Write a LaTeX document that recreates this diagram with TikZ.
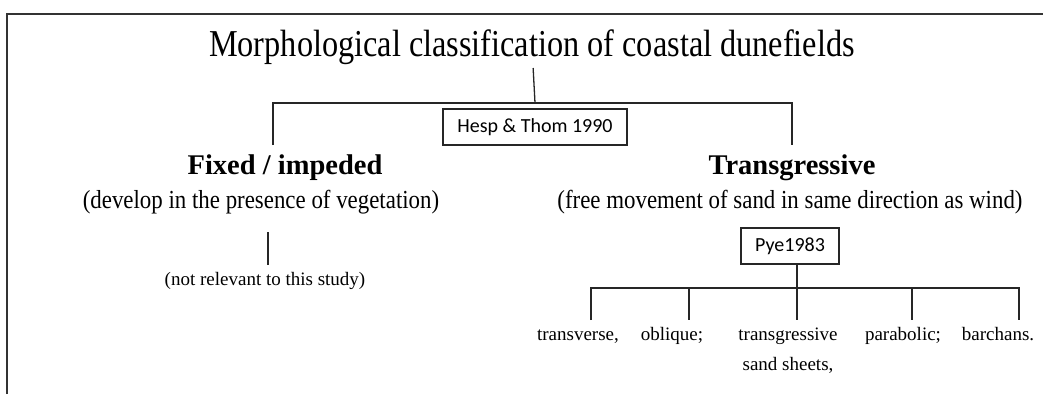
\documentclass[tikz,border=0pt]{standalone}
\usepackage{fontspec}
\setmainfont{Liberation Serif}[FakeStretch=0.88]
\newfontfamily\boxfont{Carlito}
\newfontfamily\leaffont{Liberation Serif}
\newfontfamily\titlefont{Liberation Serif}[FakeStretch=0.85]
\usepackage{tikz}

\begin{document}
\begin{tikzpicture}[x=1pt,y=-1pt,
  link/.style={draw=black!85, line width=1.3pt},
  ref/.style={draw=black!85, line width=1.8pt, font={\boxfont\fontsize{20}{24}\selectfont}, minimum height=36pt, inner xsep=14pt},
  head/.style={font={\leaffont\bfseries\fontsize{28.5}{34}\selectfont}},
  note/.style={font={\fontsize{26}{30}\selectfont}},
  leaf/.style={font={\leaffont\fontsize{19}{22}\selectfont}, inner sep=0pt, anchor=base}]

\useasboundingbox (0,0) rectangle (1043,394);
\draw[line width=2pt, black!80] (7,394) |- (1043,14);

\node[font={\titlefont\fontsize{38}{42}\selectfont}] (title) at (532,47) {Morphological classification of coastal dunefields};
\node[ref] (hesp) at (535,127) {Hesp \& Thom 1990};

\node[head] (fixed) at (285,168) {Fixed / impeded};
\node[note] (veg) at (261,202) {(develop in the presence of vegetation)};
\node[leaf] (notrel) at (265,285) {(not relevant to this study)};

\node[head] (trans) at (792,168) {Transgressive};
\node[note] (wind) at (790,202) {(free movement of sand in same direction as wind)};
\node[ref] (pye) at (790,246) {Pye1983};

\node[leaf] (transverse) at (578,340) {transverse,};
\node[leaf] (oblique) at (672,340) {oblique;};
\node[leaf] (sheets) at (788,340) {transgressive};
\node[leaf] (sheets2) at (788,370) {sand sheets,};
\node[leaf] (parabolic) at (903,340) {parabolic;};
\node[leaf] (barchans) at (998,340) {barchans.};

% upper bracket
\coordinate (top) at (535,103);
\coordinate (ldrop) at (273,145);
\coordinate (rdrop) at (792,145);
\draw[link] (title) -- (top);
\draw[link] (ldrop) |- (top) -| (rdrop);

\coordinate (vegfoot) at (268,232);
\draw[link, shorten >=7pt] (vegfoot) -- (vegfoot |- notrel.north);

% lower bracket
\coordinate (fork) at (797,288);
\coordinate (foot1) at (591,320);
\coordinate (foot2) at (689,320);
\coordinate (foot3) at (797,320);
\coordinate (foot4) at (912,320);
\coordinate (foot5) at (1019,320);
\draw[link] (pye.south -| fork) -- (foot3);
\draw[link] (foot1) |- (fork) -| (foot5);
\draw[link] (foot2 |- fork) -- (foot2);
\draw[link] (foot4 |- fork) -- (foot4);
\end{tikzpicture}
\end{document}
